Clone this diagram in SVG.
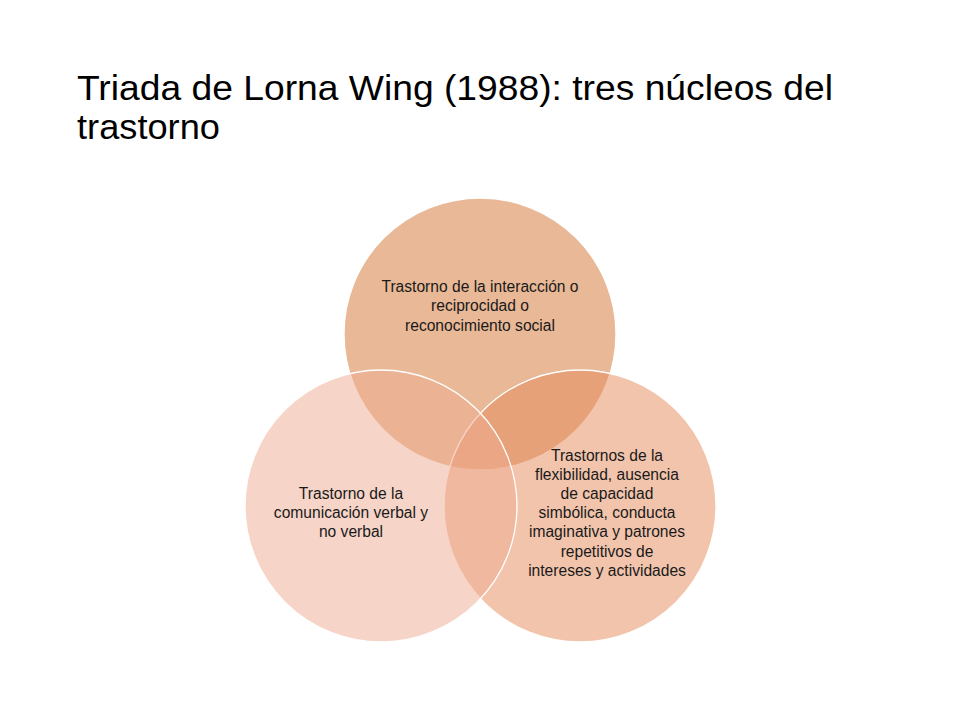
<svg xmlns="http://www.w3.org/2000/svg" width="960" height="720" viewBox="0 0 960 720">
<style>
.title{font-family:"Liberation Sans",Arial,sans-serif;font-size:34.5px;fill:#000}
.lbl{font-family:"Liberation Sans",Arial,sans-serif;font-size:15.6px;fill:#1a1a1a;text-anchor:middle}
.c{fill-opacity:0.5;stroke:#fff;stroke-width:1.3}
</style>
<rect width="960" height="720" fill="#fff"/>
<g id="title">
<text class="title" x="77" y="100" textLength="756" lengthAdjust="spacingAndGlyphs">Triada de Lorna Wing (1988): tres núcleos del</text>
<text class="title" x="77" y="139" textLength="143" lengthAdjust="spacingAndGlyphs">trastorno</text>
</g>
<g id="connectors"></g>
<g id="node-top">
<circle class="c" cx="480" cy="334" r="136" fill="#D3712D"/>
</g>
<g id="node-right">
<circle class="c" cx="580" cy="506" r="136" fill="#E58959"/>
</g>
<g id="node-left">
<circle class="c" cx="381" cy="506" r="136" fill="#EDAB91"/>
</g>
<g id="label-top">
<text class="lbl" x="480" y="292">Trastorno de la interacción o</text>
<text class="lbl" x="480" y="311">reciprocidad o</text>
<text class="lbl" x="480" y="331">reconocimiento social</text>
</g>
<g id="label-left">
<text class="lbl" x="351" y="499">Trastorno de la</text>
<text class="lbl" x="351" y="518">comunicación verbal y</text>
<text class="lbl" x="351" y="537">no verbal</text>
</g>
<g id="label-right">
<text class="lbl" x="607" y="461">Trastornos de la</text>
<text class="lbl" x="607" y="480">flexibilidad, ausencia</text>
<text class="lbl" x="607" y="499">de capacidad</text>
<text class="lbl" x="607" y="518">simbólica, conducta</text>
<text class="lbl" x="607" y="537">imaginativa y patrones</text>
<text class="lbl" x="607" y="557">repetitivos de</text>
<text class="lbl" x="607" y="576">intereses y actividades</text>
</g>
</svg>
